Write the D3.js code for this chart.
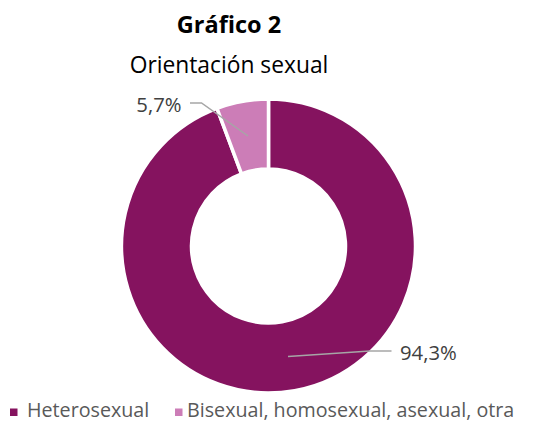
<!DOCTYPE html>
<html><head><meta charset="utf-8">
<script src="https://cdn.jsdelivr.net/npm/d3@7"></script>
<style>body{margin:0;background:#fff}svg{display:block}text{font-family:"Open Sans",sans-serif}</style>
</head><body>
<script>
const categories = ["Heterosexual", "Bisexual, homosexual, asexual, otra"];
const values = [94.3, 5.7];
const valueLabels = ["94,3%", "5,7%"];
const colors = ["#85135F", "#CC7DB7"];
const title = "Gráfico 2";
const subtitle = "Orientación sexual";

const W = 543, H = 423;
const svg = d3.select("body").append("svg").attr("width", W).attr("height", H);
const cx = 268.5, cy = 246, rOuter = 147, rInner = 77;

svg.append("text").attr("x", 229).attr("y", 32.5).attr("text-anchor", "middle")
  .attr("font-size", 23.5).attr("font-weight", "bold").attr("fill", "#000").text(title);
svg.append("text").attr("x", 229).attr("y", 72.5).attr("text-anchor", "middle")
  .attr("font-size", 22.8).attr("fill", "#000").text(subtitle);

const pie = d3.pie().sort(null).value(d => d);
const arcs = pie(values);
const arc = d3.arc().innerRadius(rInner).outerRadius(rOuter);
const g = svg.append("g").attr("transform", `translate(${cx},${cy})`);
g.selectAll("path").data(arcs).join("path")
  .attr("d", arc).attr("fill", (d, i) => colors[i])
  .attr("stroke", "#fff").attr("stroke-width", 3.5);

// leader lines and labels
const leaders = [
  {pts: [[288, 356.5], [370, 351], [391.5, 351]], tx: 400, ty: 360, anchor: "start"},
  {pts: [[248, 136], [201.5, 103], [190, 103]], tx: 181.5, ty: 112, anchor: "end"}
];
arcs.forEach((a, i) => {
  const L = leaders[i];
  svg.append("polyline").attr("points", L.pts.map(p => p.join(",")).join(" "))
    .attr("fill", "none").attr("stroke", "#A6A6A6").attr("stroke-width", 1.5);
  svg.append("text").attr("x", L.tx).attr("y", L.ty).attr("text-anchor", L.anchor)
    .attr("font-size", 20.3).attr("fill", "#404040").text(valueLabels[i]);
});

// legend
const legendX = [10, 175];
const legendTextX = [27, 187];
categories.forEach((c, i) => {
  svg.append("rect").attr("x", legendX[i]).attr("y", 408.5).attr("width", 7.5).attr("height", 7.5).attr("fill", colors[i]);
  svg.append("text").attr("x", legendTextX[i]).attr("y", 417).attr("font-size", 19.7)
    .attr("fill", "#595959").text(c);
});
</script>
</body></html>
